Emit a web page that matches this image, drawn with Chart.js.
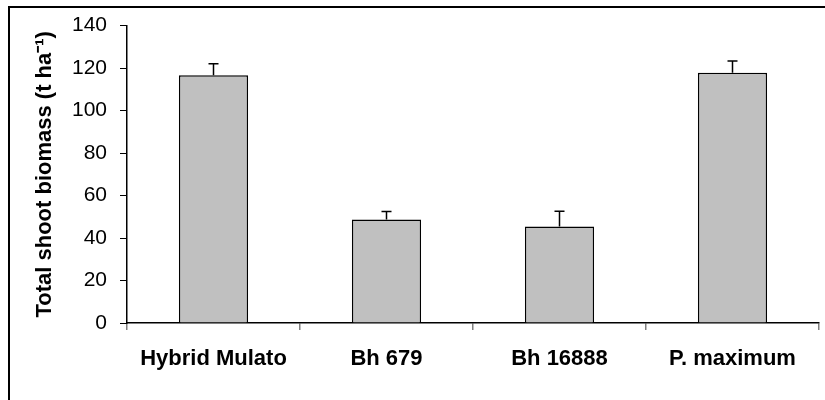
<!DOCTYPE html>
<html>
<head>
<meta charset="utf-8">
<script src="https://cdn.jsdelivr.net/npm/chart.js@4/dist/chart.umd.min.js"></script>
<style>
  html, body { margin: 0; padding: 0; background: #fff; }
  #wrap { position: relative; width: 825px; height: 400px; }
</style>
</head>
<body>
<div id="wrap"><canvas id="c" width="825" height="400"></canvas></div>
<script>
const categories = ["Hybrid Mulato", "Bh 679", "Bh 16888", "P. maximum"];
const biomass = [116.6, 48.7, 45.4, 117.8];
const errors = [5.4, 3.8, 7.2, 5.5];
const yTicks = [0, 20, 40, 60, 80, 100, 120, 140];
const yTitle = "Total shoot biomass (t ha\u207B\u00B9)";

const FONT = "'Liberation Sans', Arial, sans-serif";

const frame = {
  id: 'frame',
  beforeDraw(chart) {
    const ctx = chart.ctx;
    ctx.save();
    ctx.fillStyle = '#fff';
    ctx.fillRect(0, 0, chart.width, chart.height);
    ctx.restore();
  },
  afterDraw(chart) {
    const ctx = chart.ctx;
    ctx.save();
    ctx.strokeStyle = '#000';
    ctx.lineWidth = 2;
    ctx.strokeRect(9, 7, 900, 500);
    ctx.restore();
  }
};

const errorBars = {
  id: 'errorBars',
  afterDatasetsDraw(chart) {
    const ctx = chart.ctx;
    const meta = chart.getDatasetMeta(0);
    const y = chart.scales.y;
    ctx.save();
    ctx.strokeStyle = '#000';
    ctx.lineWidth = 1.5;
    meta.data.forEach((bar, i) => {
      const x = bar.x;
      const yb = y.getPixelForValue(biomass[i]);
      const yt = y.getPixelForValue(biomass[i] + errors[i]);
      ctx.beginPath();
      ctx.moveTo(x, yb);
      ctx.lineTo(x, yt);
      ctx.moveTo(x - 5, yt);
      ctx.lineTo(x + 5, yt);
      ctx.stroke();
    });
    ctx.restore();
  }
};

new Chart(document.getElementById('c'), {
  type: 'bar',
  data: {
    labels: categories,
    datasets: [{
      data: biomass,
      backgroundColor: '#C0C0C0',
      borderColor: '#000',
      borderWidth: 1.5,
      categoryPercentage: 0.4,
      barPercentage: 1.0
    }]
  },
  options: {
    responsive: false,
    animation: false,
    devicePixelRatio: 1,
    layout: { padding: { top: 24, right: 6, bottom: 0, left: 0 } },
    plugins: {
      legend: { display: false },
      tooltip: { enabled: false }
    },
    scales: {
      x: {
        offset: true,
        grid: {
          display: true,
          offset: true,
          drawOnChartArea: false,
          drawTicks: true,
          tickLength: 7,
          color: '#808080',
          lineWidth: 1.5
        },
        border: { display: true, color: '#000', width: 1.5 },
        ticks: {
          color: '#000',
          padding: 16,
          font: { family: FONT, size: 22, weight: 'bold' }
        },
        afterFit(s) { s.height = 77; }
      },
      y: {
        min: 0,
        max: 140,
        afterBuildTicks(s) { s.ticks = yTicks.map(v => ({ value: v })); },
        grid: {
          display: true,
          drawOnChartArea: false,
          drawTicks: true,
          tickLength: 7,
          color: '#000',
          lineWidth: 1
        },
        border: { display: true, color: '#000', width: 1.5 },
        ticks: {
          color: '#000',
          padding: 13,
          font: { family: FONT, size: 21 }
        },
        title: {
          display: true,
          text: yTitle,
          color: '#000',
          padding: { top: 32, bottom: 0 },
          font: { family: FONT, size: 22, weight: 'bold' }
        },
        afterFit(s) { s.width = 127; }
      }
    }
  },
  plugins: [frame, errorBars]
});
</script>
</body>
</html>
